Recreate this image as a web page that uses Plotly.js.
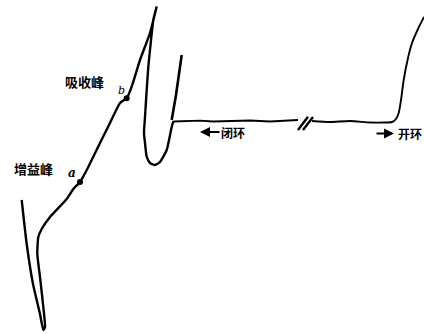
<!DOCTYPE html>
<html><head><meta charset="utf-8">
<script src="https://cdn.plot.ly/plotly-3.0.1.min.js"></script>
<style>html,body{margin:0;padding:0;background:#fff}#c{width:424px;height:334px}</style>
</head><body><div id="c"></div>
<script>
const mainX = [21.7,26.7,33,40,43.3,45,43.3,40,37.3,38.3,41.7,50,66.7,73.3,80,88.3,100,110,120,126.7,131.7,140,150,156.7,153.3,150,148.3,146.7,145,144,145,146.7,150,155,160,166.7,171.7,173.5];
const mainY = [200,244,284,314,330,327,307,277,254,237,229,217,199,189,182,167,143,123,103,98.3,86.7,60,33,6.5,20,50,67,90,117,133,143,156.7,163,165,162,150,127,121];
const spikeX = [171.7,176,181.7];
const spikeY = [120,95,55];
const closedX = [173.5,190,200,213,230,250,270,290,298];
const closedY = [121.5,121,120.7,121.5,121,120.5,121.5,120.5,120];
const openX = [312,330,350,370,385,392,396,398.7,401,403.7,408,412,418,424];
const openY = [121,122,121,122.5,122.5,122,119,113,100,80,58,43,29,17];
const breakAX = [298,308], breakAY = [130,116.7];
const breakBX = [303,313], breakBY = [130,117];
const pointX = [80,126.7], pointY = [182,98.3];
const labels = ['增益峰','吸收峰','a','b','闭环','开环'];
const labelX = [33.5,84,72,121.5,233,409.5];
const labelY = [168,81,173,90,132,133];

const ln = {color:'#000', width:2.4, shape:'spline', smoothing:0.5};
const traces = [
  {x:mainX, y:mainY, mode:'lines', line:ln},
  {x:spikeX, y:spikeY, mode:'lines', line:{color:'#000', width:2.6}},
  {x:closedX, y:closedY, mode:'lines', line:{color:'#000', width:1.8}},
  {x:openX, y:openY, mode:'lines', line:{color:'#000', width:1.9, shape:'spline', smoothing:0.6}},
  {x:breakAX, y:breakAY, mode:'lines', line:{color:'#000', width:2.4}},
  {x:breakBX, y:breakBY, mode:'lines', line:{color:'#000', width:2.4}},
  {x:pointX, y:pointY, mode:'markers', marker:{color:'#000', size:6}}
];
const cj = '"Noto Sans CJK SC", "Noto Sans", sans-serif';
const ann = [
  {x:labelX[0], y:labelY[0], text:'<b>'+labels[0]+'</b>', font:{size:13, family:cj, color:'#000'}},
  {x:labelX[1], y:labelY[1], text:'<b>'+labels[1]+'</b>', font:{size:13, family:cj, color:'#000'}},
  {x:labelX[2], y:labelY[2], text:'<i><b>'+labels[2]+'</b></i>', font:{size:12, family:'"DejaVu Serif", serif', color:'#000'}},
  {x:labelX[3], y:labelY[3], text:'<i>'+labels[3]+'</i>', font:{size:11, family:'"DejaVu Serif", serif', color:'#000'}},
  {x:labelX[4], y:labelY[4], text:'<b>'+labels[4]+'</b>', font:{size:12, family:cj, color:'#000'}},
  {x:labelX[5], y:labelY[5], text:'<b>'+labels[5]+'</b>', font:{size:12, family:cj, color:'#000'}}
].map(a => Object.assign({xref:'x', yref:'y', showarrow:false}, a));
// arrows
ann.push({x:200, y:132, ax:221, ay:132, axref:'x', ayref:'y', xref:'x', yref:'y', showarrow:true, arrowhead:2, arrowsize:1, arrowwidth:2, arrowcolor:'#000', text:''});
ann.push({x:394, y:133.5, ax:375, ay:133.5, axref:'x', ayref:'y', xref:'x', yref:'y', showarrow:true, arrowhead:2, arrowsize:1, arrowwidth:2, arrowcolor:'#000', text:''});

Plotly.newPlot('c', traces, {
  width:424, height:334, margin:{l:0,r:0,t:0,b:0},
  paper_bgcolor:'#fff', plot_bgcolor:'#fff', showlegend:false,
  xaxis:{range:[0,424], visible:false, fixedrange:true},
  yaxis:{range:[334,0], visible:false, fixedrange:true},
  annotations:ann
}, {staticPlot:true, displayModeBar:false});
</script></body></html>
